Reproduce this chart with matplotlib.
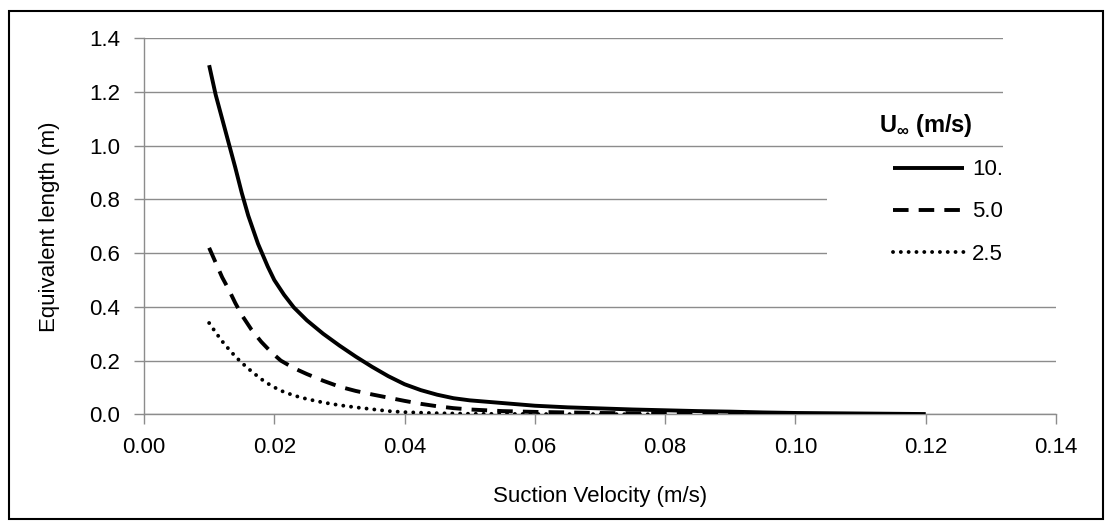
import matplotlib
matplotlib.use("Agg")
import matplotlib.pyplot as plt
from matplotlib.patches import Rectangle

plt.rcParams["font.family"] = ["Liberation Sans", "DejaVu Sans"]
plt.rcParams["mathtext.fontset"] = "custom"
plt.rcParams["mathtext.rm"] = "Liberation Sans"
plt.rcParams["mathtext.bf"] = "Liberation Sans:bold"

# suction velocity (m/s) and equivalent length (m)
v_10 = [0.010, 0.011, 0.012, 0.013, 0.014, 0.015, 0.016, 0.0175, 0.019,
        0.020, 0.0215, 0.023, 0.025, 0.0275, 0.030, 0.0325, 0.035, 0.0375,
        0.040, 0.0425, 0.045, 0.0475, 0.050, 0.055, 0.060, 0.065, 0.070,
        0.075, 0.080, 0.085, 0.090, 0.095, 0.100, 0.110, 0.120]
L_10 = [1.30, 1.19, 1.10, 1.01, 0.92, 0.825, 0.74, 0.635, 0.55,
        0.50, 0.445, 0.398, 0.35, 0.30, 0.256, 0.215, 0.177, 0.142,
        0.112, 0.09, 0.073, 0.06, 0.052, 0.042, 0.032, 0.026, 0.022,
        0.018, 0.015, 0.012, 0.010, 0.007, 0.005, 0.003, 0.001]

v_5 = [0.010, 0.011, 0.012, 0.013, 0.014, 0.015, 0.0165, 0.018, 0.0195,
       0.021, 0.023, 0.025, 0.0275, 0.030, 0.0325, 0.035, 0.0375, 0.040,
       0.0425, 0.045, 0.0475, 0.050, 0.055, 0.060, 0.070, 0.080, 0.090,
       0.100]
L_5 = [0.62, 0.565, 0.51, 0.465, 0.415, 0.37, 0.315, 0.27, 0.232,
       0.20, 0.172, 0.15, 0.125, 0.103, 0.087, 0.074, 0.062, 0.05,
       0.039, 0.03, 0.023, 0.018, 0.012, 0.009, 0.005, 0.003, 0.002,
       0.001]

v_25 = [0.010, 0.011, 0.012, 0.013, 0.014, 0.015, 0.0165, 0.018, 0.0195,
        0.021, 0.023, 0.025, 0.0275, 0.030, 0.0325, 0.035, 0.0375, 0.040,
        0.045, 0.050, 0.060, 0.070, 0.080]
L_25 = [0.34, 0.305, 0.272, 0.243, 0.216, 0.192, 0.16, 0.131, 0.107,
        0.088, 0.07, 0.057, 0.044, 0.034, 0.026, 0.019, 0.012, 0.008,
        0.004, 0.002, 0.001, 0.0005, 0.0]

labels = ["10.", "5.0", "2.5"]
x_ticks = [0.00, 0.02, 0.04, 0.06, 0.08, 0.10, 0.12, 0.14]
y_ticks = [0.0, 0.2, 0.4, 0.6, 0.8, 1.0, 1.2, 1.4]

grey = "#8c8c8c"
fs = 16

fig = plt.figure(figsize=(11.06, 5.22), dpi=100)
ax = fig.add_axes([0.1302, 0.2063, 0.8246, 0.7203])

# outer frame of the chart
fig.patches.append(Rectangle((9 / 1106, 3 / 522), 1094 / 1106, 508 / 522,
                             transform=fig.transFigure, fill=False,
                             edgecolor="black", linewidth=1.5))

ax.plot(v_10, L_10, color="black", lw=2.8, label=labels[0],
        solid_capstyle="butt", solid_joinstyle="round", zorder=3)
ax.plot(v_5, L_5, color="black", lw=2.8, linestyle=(0, (4, 2.6)),
        label=labels[1], zorder=3)
ax.plot(v_25, L_25, color="black", lw=2.8, linestyle=(0, (0.01, 2.0)),
        dash_capstyle="round", label=labels[2], zorder=3)

ax.set_xlim(0, 0.14)
ax.set_ylim(0, 1.4)
ax.set_xticks(x_ticks)
ax.set_yticks(y_ticks)
ax.set_xticklabels([f"{t:.2f}" for t in x_ticks])
ax.set_yticklabels([f"{t:.1f}" for t in y_ticks])
ax.tick_params(axis="both", colors=grey, labelcolor="black", labelsize=fs,
               length=7, width=1)
ax.tick_params(axis="x", pad=9)
ax.tick_params(axis="y", pad=10)

ax.grid(axis="y", color=grey, linewidth=1, zorder=0)
ax.set_axisbelow(True)
for side in ["top", "right"]:
    ax.spines[side].set_visible(False)
for side in ["left", "bottom"]:
    ax.spines[side].set_color(grey)
    ax.spines[side].set_linewidth(1)

# white area behind the legend hides part of the gridlines
ax.add_patch(Rectangle((0.749, 0.304), 0.26, 0.399, transform=ax.transAxes,
                       facecolor="white", edgecolor="none", zorder=1,
                       clip_on=False))
ax.add_patch(Rectangle((0.942, 0.304), 0.07, 0.71, transform=ax.transAxes,
                       facecolor="white", edgecolor="none", zorder=1,
                       clip_on=False))

ax.set_xlabel("Suction Velocity (m/s)", fontsize=fs)
ax.set_ylabel("Equivalent length (m)", fontsize=fs)
ax.xaxis.set_label_coords(0.5, -0.19)
ax.yaxis.set_label_coords(-0.092, 0.5)

ax.text(0.857, 0.767, r"U$_{\mathbf{\infty}}$ (m/s)", transform=ax.transAxes,
        fontsize=17, fontweight="bold", ha="center", va="center")
ax.legend(loc="upper left", bbox_to_anchor=(0.821, 0.678), frameon=False,
          fontsize=fs, handlelength=3.2, handletextpad=0.36,
          labelspacing=0.95, borderaxespad=0, borderpad=0)

fig.savefig("out.png", dpi=100)
